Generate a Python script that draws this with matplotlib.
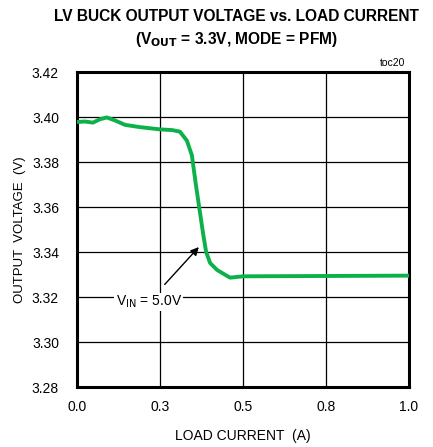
import matplotlib
matplotlib.use("Agg")
import matplotlib.pyplot as plt

# load current (A) vs output voltage (V)
load_current = [0.000, 0.024, 0.048, 0.069, 0.090, 0.114, 0.145, 0.190, 0.250,
                0.286, 0.310, 0.331, 0.346, 0.358, 0.370, 0.380, 0.389, 0.401,
                0.422, 0.461, 0.500, 0.672, 1.000]
output_voltage = [3.3978, 3.3980, 3.3975, 3.3990, 3.3998, 3.3985, 3.3965, 3.3955,
                  3.3945, 3.3942, 3.3935, 3.3895, 3.3830, 3.3700, 3.3580, 3.3480,
                  3.3400, 3.3351, 3.3320, 3.3286, 3.3292, 3.3293, 3.3295]

x_ticks = [0.0, 0.25, 0.5, 0.75, 1.0]
x_tick_labels = ["0.0", "0.3", "0.5", "0.8", "1.0"]
y_ticks = [3.28, 3.30, 3.32, 3.34, 3.36, 3.38, 3.40, 3.42]

plt.rcParams["font.family"] = ["Liberation Sans", "DejaVu Sans"]

fig = plt.figure(figsize=(4.33, 4.47), dpi=100)
ax = fig.add_axes([0.1778, 0.1342, 0.9446 - 0.1778, 0.8389 - 0.1342])

ax.plot(load_current, output_voltage, color="#0DB14B", linewidth=2.8,
        solid_capstyle="round", zorder=3)

ax.set_xlim(0.0, 1.0)
ax.set_ylim(3.28, 3.42)
ax.set_xticks(x_ticks)
ax.set_xticklabels(x_tick_labels)
ax.set_yticks(y_ticks)
ax.set_yticklabels([f"{v:.2f}" for v in y_ticks])
ax.tick_params(axis="both", length=0, labelsize=10)
ax.tick_params(axis="x", pad=9)
ax.tick_params(axis="y", pad=13)
ax.grid(True, color="black", linewidth=0.9)
for spine in ax.spines.values():
    spine.set_linewidth(2.2)

ax.set_xlabel("LOAD CURRENT  (A)", fontsize=10, labelpad=11)
ax.set_ylabel("OUTPUT  VOLTAGE  (V)", fontsize=9.5, labelpad=4)

fig.text(0.545, 0.962, "LV BUCK OUTPUT VOLTAGE vs. LOAD CURRENT",
         ha="center", va="center", fontsize=11.2, fontweight="bold")
fig.text(0.545, 0.912, r"(V$_{\mathbf{OUT}}$ = 3.3V, MODE = PFM)",
         ha="center", va="center", fontsize=11.2, fontweight="bold")
ax.text(0.99, 1.012, "toc20", transform=ax.transAxes, ha="right", va="bottom",
        fontsize=7.5)

ax.annotate(r"V$_{\mathrm{IN}}$ = 5.0V", xy=(0.367, 3.3422), xytext=(0.216, 3.3178),
            ha="center", va="center", fontsize=10,
            bbox=dict(boxstyle="square,pad=0.08", facecolor="white", edgecolor="none"),
            arrowprops=dict(arrowstyle="-|>", color="black", lw=1.0,
                            shrinkA=8, shrinkB=0, mutation_scale=12),
            zorder=4)

fig.savefig("out.png", dpi=100)
